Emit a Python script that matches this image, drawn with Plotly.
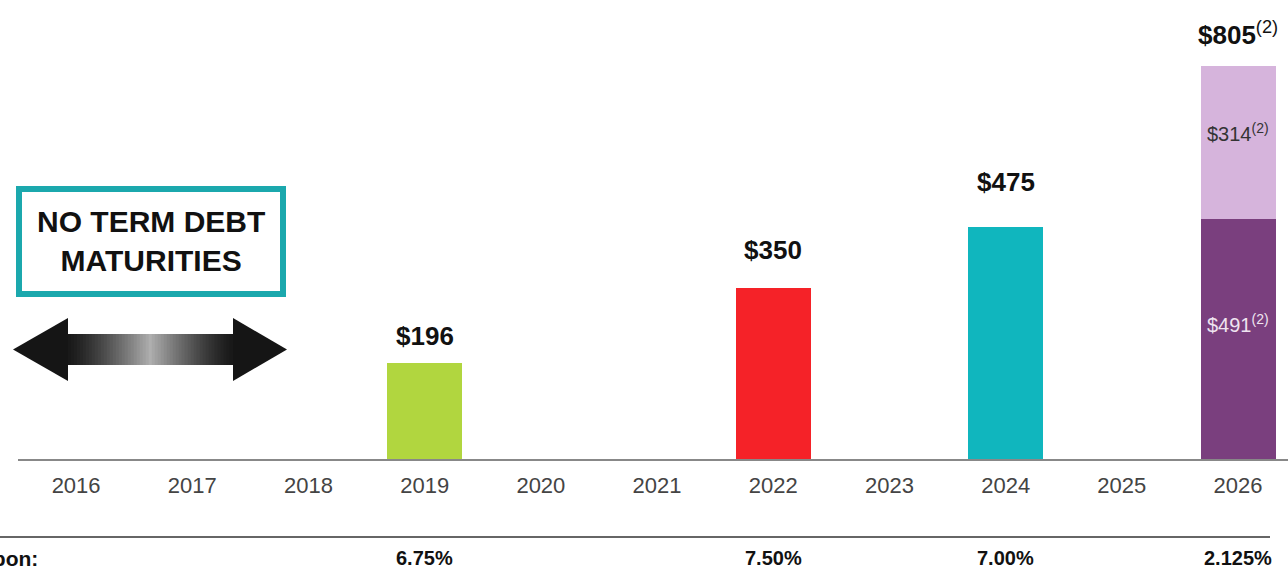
import plotly.graph_objects as go

# ---- data ----
years = ["2016", "2017", "2018", "2019", "2020", "2021", "2022", "2023", "2024", "2025", "2026"]
maturities = [None, None, None, 196, None, None, 350, None, 475, None, 491]
additional = [None, None, None, None, None, None, None, None, None, None, 314]
coupon_years = ["2019", "2022", "2024", "2026"]
coupon_rates = ["6.75%", "7.50%", "7.00%", "2.125%"]
footnote_years = ["2026"]

# ---- styling ----
bar_colors = ["#b1d63f"] * 3 + ["#b1d63f", "#b1d63f", "#b1d63f", "#f52228", "#f52228", "#10b6be", "#10b6be", "#7a3f7e"]
top_color = "#d6b4dc"
label_shift = {"2019": 10, "2022": 21, "2024": 28, "2026": 14}

W, H = 1288, 571
L, B = 18, 112
PH = H - B  # plot height in px (top margin 0)
PW = W - L


def px(x):
    return (x - L) / PW


def py(y):
    return (PH - y) / PH


fig = go.Figure()
fig.add_trace(go.Bar(x=years, y=maturities, marker=dict(color=bar_colors, line=dict(width=0)),
                     width=0.645, hoverinfo="skip"))
fig.add_trace(go.Bar(x=years, y=additional, marker=dict(color=top_color, line=dict(width=0)),
                     width=0.645, hoverinfo="skip"))

annotations = []
shapes = []

# total labels
for i, (yr, m, a) in enumerate(zip(years, maturities, additional)):
    if m is None:
        continue
    total = m + (a or 0)
    txt = f"${total}"
    if yr in footnote_years:
        txt += "<span style='font-weight:normal'><sup>(2)</sup></span>"
    annotations.append(dict(x=i, y=total, xref="x", yref="y", text=txt, showarrow=False,
                            xanchor="center", yanchor="bottom", yshift=label_shift.get(yr, 20),
                            font=dict(family="Liberation Sans, Arial", size=26, color="#111111", weight="bold")))
    if a:
        annotations.append(dict(x=i, y=m / 2, xref="x", yref="y", showarrow=False, xanchor="center",
                                yanchor="middle", yshift=16,
                                text=f"${m}<sup>(2)</sup>",
                                font=dict(family="Liberation Sans, Arial", size=20, color="#efe4f0")))
        annotations.append(dict(x=i, y=m + a / 2, xref="x", yref="y", showarrow=False, xanchor="center",
                                yanchor="middle", yshift=10,
                                text=f"${a}<sup>(2)</sup>",
                                font=dict(family="Liberation Sans, Arial", size=20, color="#333333")))

# coupon row
annotations.append(dict(x=px(40), y=py(558), xref="paper", yref="paper", xanchor="right", yanchor="middle",
                        text="Coupon:", showarrow=False,
                        font=dict(family="Liberation Sans, Arial", size=21, color="#111111", weight="bold")))
for yr, rate in zip(coupon_years, coupon_rates):
    annotations.append(dict(x=years.index(yr), y=py(558), xref="x", yref="paper", xanchor="center",
                            yanchor="middle", text=rate, showarrow=False,
                            font=dict(family="Liberation Sans, Arial", size=20, color="#111111", weight="bold")))
shapes.append(dict(type="line", xref="paper", yref="paper", x0=px(0), x1=px(1270), y0=py(537), y1=py(537),
                   line=dict(color="#333333", width=1.5)))

# box
shapes.append(dict(type="rect", xref="paper", yref="paper", x0=px(19), x1=px(283), y0=py(189), y1=py(294),
                   line=dict(color="#1ba8ad", width=6), fillcolor="white"))
annotations.append(dict(x=px(151), y=py(241), xref="paper", yref="paper", showarrow=False,
                        xanchor="center", yanchor="middle",
                        text="NO TERM DEBT<br>MATURITIES",
                        font=dict(family="Liberation Sans, Arial", size=30,
                                  color="#111111", weight="bold")))

# double arrow with gradient shaft
y_top_head, y_bot_head = 318, 381
y_top_shaft, y_bot_shaft = 334, 365
x_tip_l, x_base_l, x_base_r, x_tip_r = 13, 68, 233, 287
ymid = (y_top_head + y_bot_head) / 2
n = 55
step = (x_base_r - x_base_l) / n
for k in range(n):
    x0 = x_base_l + k * step
    t = abs((k + 0.5) / n - 0.5) * 2  # 0 centre, 1 ends
    g = int(25 + (175 - 25) * (1 - t) ** 1.3)
    shapes.append(dict(type="rect", xref="paper", yref="paper", x0=px(x0 - 0.3), x1=px(x0 + step + 0.3),
                       y0=py(y_bot_shaft), y1=py(y_top_shaft), line=dict(width=0),
                       fillcolor=f"rgb({g},{g},{g})"))
for xt, xb in ((x_tip_l, x_base_l), (x_tip_r, x_base_r)):
    path = (f"M {px(xt)} {py(ymid)} L {px(xb)} {py(y_top_head)} L {px(xb)} {py(y_bot_head)} Z")
    shapes.append(dict(type="path", xref="paper", yref="paper", path=path, line=dict(width=0),
                       fillcolor="#151515"))

fig.update_layout(
    width=W, height=H,
    margin=dict(l=L, r=0, t=0, b=B),
    barmode="stack",
    showlegend=False,
    plot_bgcolor="white", paper_bgcolor="white",
    xaxis=dict(type="category", range=[-0.5, 10.43], showgrid=False, showline=True,
               linecolor="#888888", linewidth=2, ticks="", zeroline=False, ticklabelstandoff=6,
               tickfont=dict(family="Liberation Sans, Arial", size=22, color="#444444")),
    yaxis=dict(range=[0, PH / 0.488], visible=False, showgrid=False, zeroline=False),
    annotations=annotations,
    shapes=shapes,
)

fig.write_html("out.html")
